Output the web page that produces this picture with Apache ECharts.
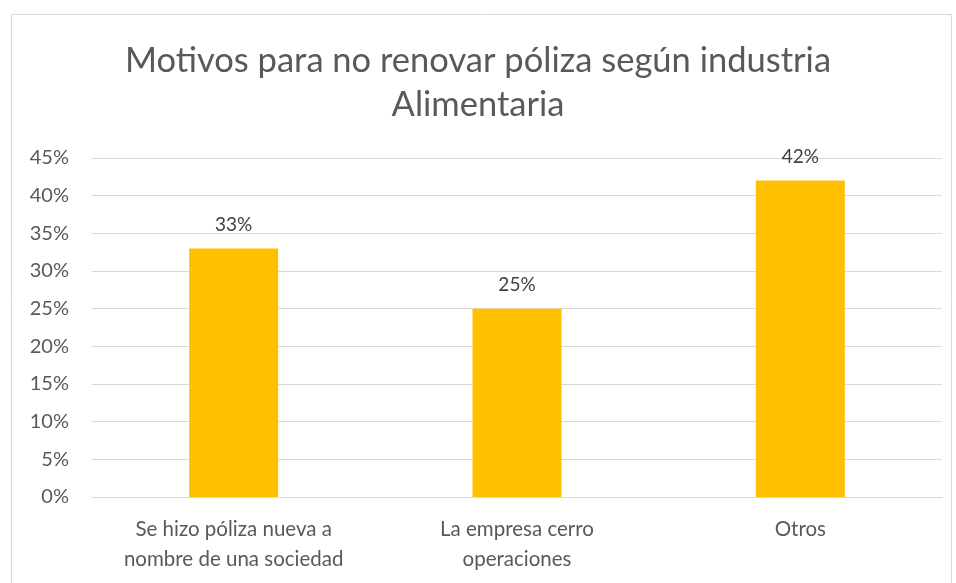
<!DOCTYPE html>
<html>
<head>
<meta charset="utf-8">
<script src="https://cdn.jsdelivr.net/npm/echarts@6/dist/echarts.min.js"></script>
<style>
  html, body { margin: 0; padding: 0; background: #fff; }
  #main { width: 956px; height: 583px; }
</style>
</head>
<body>
<div id="main"></div>
<script>
// datos del gráfico
var categorias = ['Se hizo póliza nueva a\nnombre de una sociedad', 'La empresa cerro\noperaciones', 'Otros'];
var valores = [33, 25, 42];
var ticks = ['0%', '5%', '10%', '15%', '20%', '25%', '30%', '35%', '40%', '45%'];

var myChart = echarts.init(document.getElementById('main'));
var fuente = 'Lato';
var option = {
    backgroundColor: '#fff',
    graphic: [{
        type: 'rect',
        shape: { x: 11.5, y: 14.5, width: 940, height: 600 },
        style: { fill: 'none', stroke: '#d9d9d9', lineWidth: 1 },
        silent: true
    }],
    title: {
        text: 'Motivos para no renovar póliza según industria\nAlimentaria',
        left: 'center',
        top: 34,
        textStyle: {
            fontFamily: fuente,
            fontSize: 34.5,
            fontWeight: 'normal',
            color: '#595959',
            lineHeight: 44
        }
    },
    grid: { left: 92, right: 14, top: 158, bottom: 86 },
    xAxis: {
        type: 'category',
        data: categorias,
        axisTick: { show: false },
        axisLine: { lineStyle: { color: '#d9d9d9' } },
        axisLabel: {
            interval: 0,
            hideOverlap: false,
            fontFamily: fuente,
            fontSize: 20.5,
            color: '#595959',
            lineHeight: 30,
            margin: 17
        }
    },
    yAxis: {
        type: 'value',
        min: 0,
        max: 45,
        interval: 5,
        axisLabel: {
            fontFamily: fuente,
            fontSize: 20,
            color: '#595959',
            margin: 23,
            formatter: function (v) { return ticks[v / 5]; }
        },
        splitLine: { lineStyle: { color: '#d9d9d9' } }
    },
    series: [{
        type: 'bar',
        data: valores,
        barWidth: 89,
        itemStyle: { color: '#ffc000' },
        label: {
            show: true,
            position: 'top',
            distance: 14,
            fontFamily: fuente,
            fontSize: 19,
            color: '#404040',
            formatter: '{c}%'
        }
    }]
};
myChart.setOption(option);
</script>
</body>
</html>
